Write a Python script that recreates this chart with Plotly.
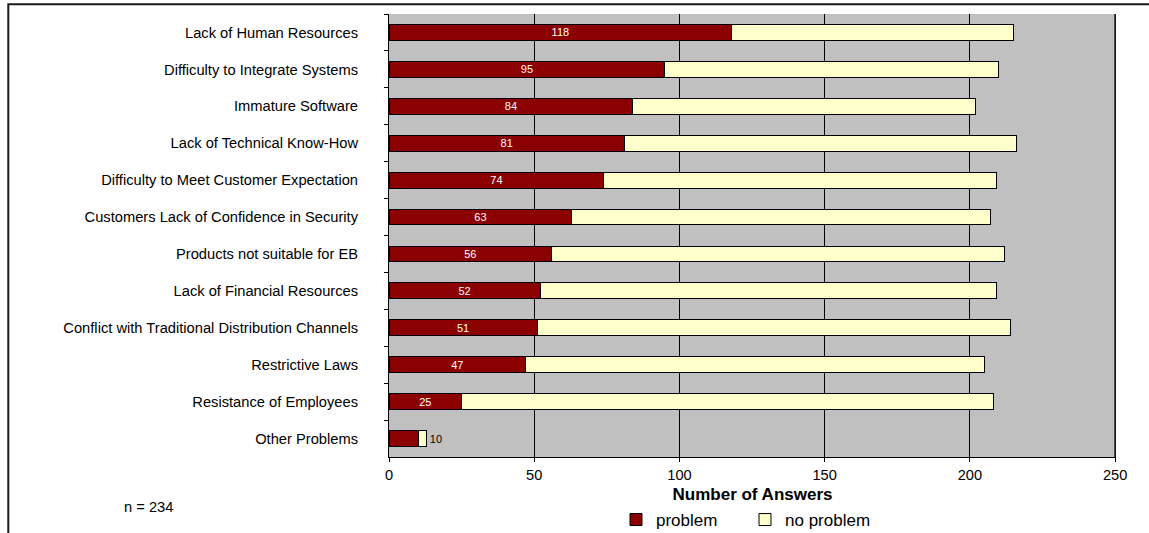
import plotly.graph_objects as go

categories = [
    "Lack of Human Resources",
    "Difficulty to Integrate Systems",
    "Immature Software",
    "Lack of Technical Know-How",
    "Difficulty to Meet Customer Expectation",
    "Customers Lack of Confidence in Security",
    "Products not suitable for EB",
    "Lack of Financial Resources",
    "Conflict with Traditional Distribution Channels",
    "Restrictive Laws",
    "Resistance of Employees",
    "Other Problems",
]
problem = [118, 95, 84, 81, 74, 63, 56, 52, 51, 47, 25, 10]
no_problem = [97, 115, 118, 135, 135, 144, 156, 157, 163, 158, 183, 3]
x_ticks = [0, 50, 100, 150, 200, 250]
n_text = "n = 234"

FONT = "Liberation Sans, Arial, sans-serif"

# Plot-area geometry in pixels
W, H = 1149, 533
ML, MR, MT, MB = 389, 33, 14, 76
PW, PH = W - ML - MR, H - MT - MB

def px(x):
    return (x - ML) / PW

def py(y):
    return (H - MB - y) / PH

inside_text = [str(v) if v >= 15 else "" for v in problem]
outside_text = [str(v) if v < 15 else "" for v in problem]

fig = go.Figure()
fig.add_trace(go.Bar(
    y=categories, x=problem, orientation="h", name="problem",
    marker=dict(color="#8B0000", line=dict(color="#000000", width=1)),
    text=inside_text, textposition="inside", insidetextanchor="middle",
    textangle=0, constraintext="none",
    insidetextfont=dict(family=FONT, size=11, color="#FFFFFF"),
))
fig.add_trace(go.Bar(
    y=categories, x=no_problem, orientation="h", name="no problem",
    marker=dict(color="#FFFFCC", line=dict(color="#000000", width=1)),
    text=outside_text, textposition="outside", textangle=0,
    cliponaxis=False, constraintext="none",
    outsidetextfont=dict(family=FONT, size=11, color="#000000"),
))

fig.update_layout(
    width=W, height=H,
    margin=dict(l=ML, r=MR, t=MT, b=MB, pad=0, autoexpand=False),
    barmode="stack", bargap=0.57,
    plot_bgcolor="#C0C0C0", paper_bgcolor="#FFFFFF",
    font=dict(family=FONT, size=14.7, color="#000000"),
    showlegend=True,
    legend=dict(
        orientation="h", x=px(745), xanchor="center", y=py(520), yanchor="middle",
        font=dict(family=FONT, size=17, color="#000000"),
        traceorder="normal", bgcolor="rgba(0,0,0,0)",
        itemclick=False, entrywidth=84,
    ),
    xaxis=dict(
        range=[0, 250.3], tickvals=x_ticks, ticktext=[str(v) for v in x_ticks],
        showgrid=True, gridcolor="#000000", gridwidth=1,
        showline=True, linecolor="#000000", linewidth=1,
        ticks="outside", ticklen=4, tickcolor="#000000",
        tickfont=dict(family=FONT, size=14.6),
        zeroline=False, automargin=False,
        title=dict(text="<b>Number of Answers</b>", font=dict(family=FONT, size=17), standoff=6),
    ),
    yaxis=dict(
        categoryorder="array", categoryarray=categories, autorange="reversed",
        showgrid=False, showline=True, linecolor="#000000", linewidth=1,
        ticks="outside", ticklen=4, tickcolor="#000000", tickson="boundaries",
        tickfont=dict(family=FONT, size=14.7), automargin=False,
        ticklabelstandoff=27,
    ),
    shapes=[
        dict(
            type="line", xref="x", yref="paper",
            x0=x_ticks[-1], x1=x_ticks[-1], y0=0, y1=1,
            line=dict(color="#000000", width=1.5), layer="below",
        ),
        dict(
            type="rect", xref="paper", yref="paper",
            x0=px(8.3), x1=px(W + 20), y0=py(H + 20), y1=py(4.3),
            line=dict(color="#1A1A1A", width=2), fillcolor="rgba(0,0,0,0)", layer="above",
        ),
    ],
    annotations=[dict(
        text=n_text, xref="paper", yref="paper", x=px(148), y=py(507),
        xanchor="center", yanchor="middle", showarrow=False,
        font=dict(family=FONT, size=14.7, color="#000000"),
    )],
)

fig.write_html(
    "out.html",
    post_script="document.body.style.margin='0';document.body.style.overflow='hidden';",
    config={"displayModeBar": False},
)
